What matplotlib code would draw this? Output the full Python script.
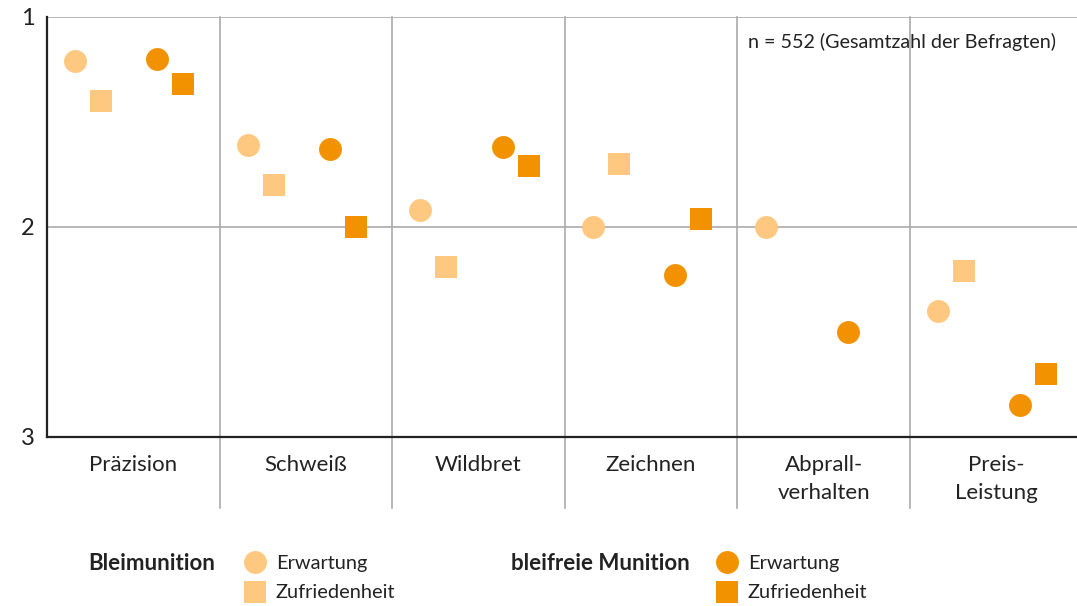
import matplotlib.pyplot as plt
from matplotlib.transforms import blended_transform_factory

plt.rcParams['font.family'] = ['Lato', 'DejaVu Sans']

categories = ["Präzision", "Schweiß", "Wildbret", "Zeichnen", "Abprall-\nverhalten", "Preis-\nLeistung"]
blei_erwartung = [1.21, 1.61, 1.92, 2.00, 2.00, 2.40]
blei_zufriedenheit = [1.40, 1.80, 2.19, 1.70, None, 2.21]
frei_erwartung = [1.20, 1.63, 1.62, 2.23, 2.50, 2.85]
frei_zufriedenheit = [1.32, 2.00, 1.71, 1.96, None, 2.70]

light = "#FFC880"
dark = "#F39200"
grey = "#AAAAAA"
txt = "#222222"

fig = plt.figure(figsize=(10.77, 6.06), dpi=100)
ax = fig.add_axes([0.0436, 0.279, 0.9616, 0.693])

series = [
    (blei_erwartung, 0.163, "o", light),
    (blei_zufriedenheit, 0.314, "s", light),
    (frei_erwartung, 0.640, "o", dark),
    (frei_zufriedenheit, 0.790, "s", dark),
]
for vals, off, mk, col in series:
    xs = [i + off for i, v in enumerate(vals) if v is not None]
    ys = [v for v in vals if v is not None]
    ax.plot(xs, ys, linestyle="none", marker=mk, markersize=16.5,
            color=col, markeredgewidth=0, zorder=3)

ax.set_xlim(0, 6)
ax.set_ylim(3, 1)
ax.set_yticks([1, 2, 3])
ax.set_yticklabels(["1", "2", "3"], fontsize=17, color=txt)
ax.tick_params(axis="y", length=0, pad=9)
ax.set_xticks([])
for s in ["top", "right"]:
    ax.spines[s].set_visible(False)
for s in ["left", "bottom"]:
    ax.spines[s].set_linewidth(1.6)
    ax.spines[s].set_color(txt)
    ax.spines[s].set_zorder(4)

# horizontal grid
for y in [1, 2]:
    ax.axhline(y, color=grey, lw=1.2, zorder=1)

# vertical separators extending through label area
trans = blended_transform_factory(ax.transData, ax.transAxes)
for i in range(1, 6):
    ax.plot([i, i], [1, -0.169], transform=trans, color=grey, lw=1.2,
            clip_on=False, zorder=1)

# category labels
for i, c in enumerate(categories):
    ax.text(i + 0.5, -0.042, c, transform=trans, ha="center", va="top",
            fontsize=16, color=txt, linespacing=1.5)

ax.text(4.06, 0.94, "n = 552 (Gesamtzahl der Befragten)", transform=trans,
        ha="left", va="center", fontsize=14.2, color=txt)

# legend
W, H = 1077, 606
def fx(px):
    return px / W
def fy(py):
    return 1 - py / H

fig.text(fx(88), fy(563), "Bleimunition", fontsize=16, fontweight="bold",
         color=txt, va="center", ha="left")
fig.text(fx(511), fy(563), "bleifreie Munition", fontsize=16, fontweight="bold",
         color=txt, va="center", ha="left")
for x0, col in [(255, light), (727, dark)]:
    fig.add_artist(plt.Line2D([fx(x0)], [fy(562)], marker="o", markersize=16.5,
                              color=col, markeredgewidth=0, linestyle="none"))
    fig.add_artist(plt.Line2D([fx(x0)], [fy(592)], marker="s", markersize=16.5,
                              color=col, markeredgewidth=0, linestyle="none"))
    fig.text(fx(x0 + 21), fy(563), "Erwartung", fontsize=14.4, color=txt,
             va="center", ha="left")
    fig.text(fx(x0 + 21), fy(593), "Zufriedenheit", fontsize=14.4, color=txt,
             va="center", ha="left")

fig.savefig("out.png", dpi=100)
